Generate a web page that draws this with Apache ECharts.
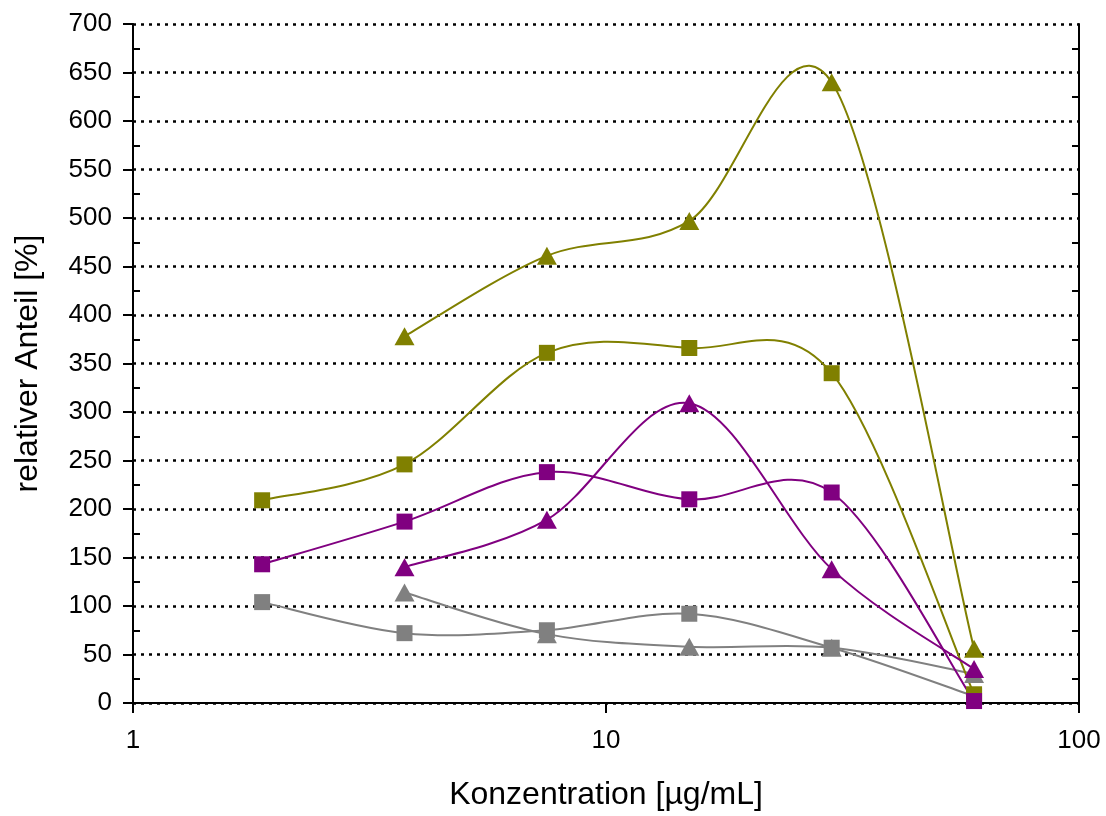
<!DOCTYPE html>
<html>
<head>
<meta charset="utf-8">
<title>relativer Anteil</title>
<script src="https://cdn.jsdelivr.net/npm/echarts@6/dist/echarts.min.js"></script>
<style>
  html, body { margin: 0; padding: 0; background: #fff; }
  #chart { width: 1106px; height: 816px; }
</style>
</head>
<body>
<div id="chart"></div>
<script>
// Konzentrationen [µg/mL]
const concentrations = [1.875, 3.75, 7.5, 15, 30, 60];

// relativer Anteil [%] je Reihe (null = kein Messwert)
const oliveSquares    = [209, 246, 361, 366, 340, 9];
const oliveTriangles  = [null, 378, 461, 497, 640, 56];
const purpleSquares   = [143, 187, 238, 210, 217, 2];
const purpleTriangles = [null, 140, 189, 309, 138, 35];
const graySquares     = [104, 72, 75, 92, 57, 7];
const grayTriangles   = [null, 114, 71, 58, 57, 30];

// Achsenbeschriftung
const xTickValues = [1, 10, 100];
const yMin = 0, yMax = 700, yStep = 50;

const FONT = '"Liberation Sans", Arial, sans-serif';
const OLIVE = '#808000', PURPLE = '#800080', GRAY = '#808080';

function points(ys) {
  const out = [];
  concentrations.forEach((x, i) => { if (ys[i] != null) out.push([x, ys[i]]); });
  return out;
}

// Geglättete Linie: kubische Bézier-Segmente (Catmull-Rom-Tangenten) in Pixelkoordinaten
function curveSeries(ys, color) {
  const pts = points(ys);
  return {
    type: 'custom',
    coordinateSystem: 'cartesian2d',
    xAxisIndex: 0,
    yAxisIndex: 0,
    silent: true,
    z: 2,
    data: pts,
    encode: { x: 0, y: 1 },
    renderItem: function (params, api) {
      const i = params.dataIndex;
      if (i >= pts.length - 1) return null;
      const c = k => api.coord(pts[Math.max(0, Math.min(pts.length - 1, k))]);
      const p0 = c(i - 1), p1 = c(i), p2 = c(i + 1), p3 = c(i + 2);
      return {
        type: 'bezierCurve',
        shape: {
          x1: p1[0], y1: p1[1],
          x2: p2[0], y2: p2[1],
          cpx1: p1[0] + (p2[0] - p0[0]) / 6,
          cpy1: p1[1] + (p2[1] - p0[1]) / 6,
          cpx2: p2[0] - (p3[0] - p1[0]) / 6,
          cpy2: p2[1] - (p3[1] - p1[1]) / 6
        },
        style: { fill: 'none', stroke: color, lineWidth: 2 }
      };
    }
  };
}

function markerSeries(ys, color, symbol) {
  return {
    type: 'scatter',
    xAxisIndex: 0,
    yAxisIndex: 0,
    silent: true,
    z: 3,
    symbol: symbol,
    symbolSize: symbol === 'rect' ? 16 : [20, 18],
    itemStyle: { color: color, opacity: 1 },
    data: points(ys)
  };
}

const seriesDefs = [
  [grayTriangles, GRAY, 'triangle'],
  [graySquares, GRAY, 'rect'],
  [oliveSquares, OLIVE, 'rect'],
  [oliveTriangles, OLIVE, 'triangle'],
  [purpleTriangles, PURPLE, 'triangle'],
  [purpleSquares, PURPLE, 'rect']
];

const series = [];
seriesDefs.forEach(d => series.push(curveSeries(d[0], d[1])));
seriesDefs.forEach(d => series.push(markerSeries(d[0], d[1], d[2])));

const axisLineStyle = { color: '#000', width: 2 };

const chart = echarts.init(document.getElementById('chart'), null, { renderer: 'canvas' });
chart.setOption({
  animation: false,
  backgroundColor: '#fff',
  textStyle: { fontFamily: FONT },
  grid: { left: 133, right: 27, top: 24, bottom: 111, containLabel: false },
  xAxis: [
    {
      type: 'log',
      logBase: 10,
      min: 1,
      max: 100,
      position: 'bottom',
      name: 'Konzentration [µg/mL]',
      nameLocation: 'middle',
      nameGap: 76,
      nameTextStyle: { fontFamily: FONT, fontSize: 32, color: '#000' },
      axisLine: { show: true, lineStyle: axisLineStyle },
      axisTick: { show: true, length: 10, lineStyle: { color: '#000', width: 2 } },
      axisLabel: {
        fontFamily: FONT, fontSize: 26, color: '#000', margin: 25,
        formatter: v => (xTickValues.indexOf(Math.round(v)) >= 0 ? String(Math.round(v)) : '')
      },
      splitLine: { show: false },
      minorTick: { show: false }
    },
    {
      type: 'log',
      logBase: 10,
      min: 1,
      max: 100,
      position: 'top',
      axisLine: { show: true, lineStyle: axisLineStyle },
      axisTick: { show: false },
      axisLabel: { show: false },
      splitLine: { show: false }
    }
  ],
  yAxis: [
    {
      type: 'value',
      min: yMin,
      max: yMax,
      interval: yStep,
      position: 'left',
      name: 'relativer Anteil [%]',
      nameLocation: 'middle',
      nameGap: 89,
      nameTextStyle: { fontFamily: FONT, fontSize: 32, color: '#000' },
      axisLine: { show: true, lineStyle: axisLineStyle },
      axisTick: { show: true, length: 10, lineStyle: { color: '#000', width: 2 } },
      axisLabel: { fontFamily: FONT, fontSize: 26, color: '#000', margin: 21 },
      splitLine: { show: true, lineStyle: { color: '#000', width: 2.5, type: [3, 5] } }
    },
    {
      // innenliegende Zwischenstriche links
      type: 'value',
      min: yMin,
      max: yMax,
      interval: yStep,
      position: 'left',
      axisLine: { show: false },
      axisTick: { show: false, inside: true },
      axisLabel: { show: false },
      splitLine: { show: false },
      minorTick: { show: true, splitNumber: 2, length: 7, lineStyle: { color: '#000', width: 2 } }
    },
    {
      // rechter Rahmen mit innenliegenden Zwischenstrichen
      type: 'value',
      min: yMin,
      max: yMax,
      interval: yStep,
      position: 'right',
      axisLine: { show: true, onZero: false, lineStyle: axisLineStyle },
      axisTick: { show: false, inside: true },
      axisLabel: { show: false },
      splitLine: { show: false },
      minorTick: { show: true, splitNumber: 2, length: 7, lineStyle: { color: '#000', width: 2 } }
    }
  ],
  series: series
});
</script>
</body>
</html>
